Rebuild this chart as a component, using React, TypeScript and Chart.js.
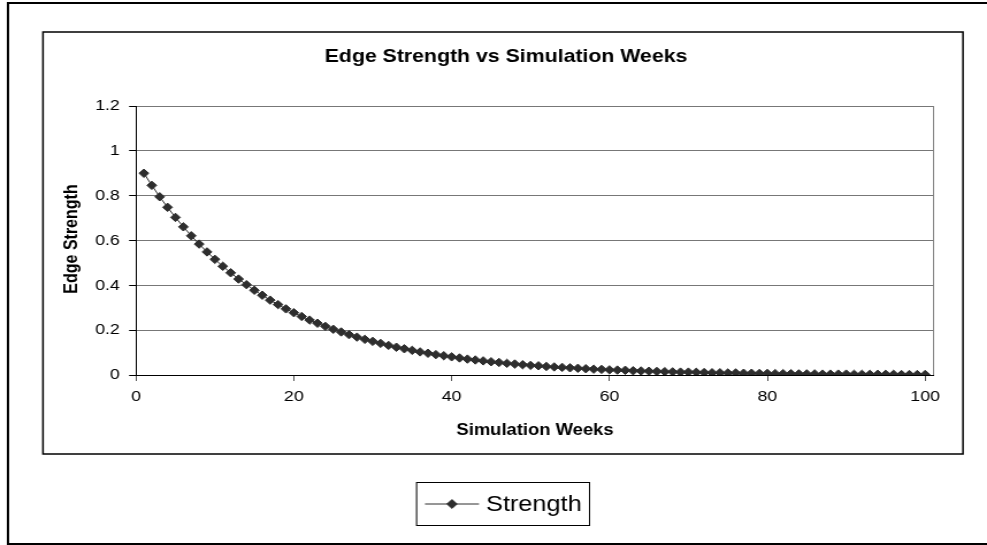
import React, { useEffect, useRef } from 'react';
import { Chart, registerables } from 'chart.js';

Chart.register(...registerables);

const chartTitle = 'Edge Strength vs Simulation Weeks';
const xAxisTitle = 'Simulation Weeks';
const yAxisTitle = 'Edge Strength';
const seriesName = 'Strength';

const weeks = [
  1, 2, 3, 4, 5, 6, 7, 8, 9, 10,
  11, 12, 13, 14, 15, 16, 17, 18, 19, 20,
  21, 22, 23, 24, 25, 26, 27, 28, 29, 30,
  31, 32, 33, 34, 35, 36, 37, 38, 39, 40,
  41, 42, 43, 44, 45, 46, 47, 48, 49, 50,
  51, 52, 53, 54, 55, 56, 57, 58, 59, 60,
  61, 62, 63, 64, 65, 66, 67, 68, 69, 70,
  71, 72, 73, 74, 75, 76, 77, 78, 79, 80,
  81, 82, 83, 84, 85, 86, 87, 88, 89, 90,
  91, 92, 93, 94, 95, 96, 97, 98, 99, 100,
];

const strength = [
  0.900, 0.846, 0.795, 0.748, 0.703, 0.661, 0.621, 0.584, 0.549, 0.516,
  0.485, 0.456, 0.428, 0.403, 0.378, 0.356, 0.334, 0.314, 0.295, 0.278,
  0.261, 0.245, 0.231, 0.217, 0.204, 0.192, 0.180, 0.169, 0.159, 0.150,
  0.141, 0.132, 0.124, 0.117, 0.110, 0.103, 0.097, 0.091, 0.086, 0.081,
  0.076, 0.071, 0.067, 0.063, 0.059, 0.056, 0.052, 0.049, 0.046, 0.043,
  0.041, 0.038, 0.036, 0.034, 0.032, 0.030, 0.028, 0.026, 0.025, 0.023,
  0.022, 0.021, 0.019, 0.018, 0.017, 0.016, 0.015, 0.014, 0.013, 0.013,
  0.012, 0.011, 0.010, 0.010, 0.009, 0.009, 0.008, 0.008, 0.007, 0.007,
  0.006, 0.006, 0.006, 0.005, 0.005, 0.005, 0.004, 0.004, 0.004, 0.004,
  0.003, 0.003, 0.003, 0.003, 0.003, 0.003, 0.002, 0.002, 0.002, 0.002,
];

const xTickValues = [0, 20, 40, 60, 80, 100];
const xTickLabels = ['0', '20', '40', '60', '80', '100'];
const yTickValues = [0, 0.2, 0.4, 0.6, 0.8, 1, 1.2];
const yTickLabels = ['0', '0.2', '0.4', '0.6', '0.8', '1', '1.2'];

// canvas is drawn narrower and stretched horizontally, like the reference
const CW = 858;
const CH = 545;
const S = 987 / CW;
const X = (v: number) => v / S;

const FONT = '"Liberation Sans", Arial, sans-serif';
const MARK = '#2e2e2e';

const framePlugin = {
  id: 'excelFrame',
  beforeDraw(chart: any) {
    const ctx = chart.ctx;
    ctx.save();
    ctx.fillStyle = '#fff';
    ctx.fillRect(0, 0, chart.width, chart.height);
    ctx.restore();
  },
  afterDraw(chart: any) {
    const ctx = chart.ctx;
    const ca = chart.chartArea;
    ctx.save();
    // outer border
    ctx.strokeStyle = '#000';
    ctx.lineWidth = 2;
    ctx.strokeRect(X(8), 3, CW + 20, 541);
    // chart box
    ctx.lineWidth = 1.5;
    ctx.strokeRect(X(43), 32, X(963) - X(43), 454 - 32);
    // plot right edge
    ctx.strokeStyle = '#808080';
    ctx.lineWidth = 1;
    ctx.beginPath();
    ctx.moveTo(Math.round(ca.right) + 0.5, ca.top);
    ctx.lineTo(Math.round(ca.right) + 0.5, ca.bottom);
    ctx.stroke();

    ctx.fillStyle = '#000';
    // title
    ctx.font = `bold 18.5px ${FONT}`;
    ctx.textAlign = 'center';
    ctx.textBaseline = 'alphabetic';
    ctx.fillText(chartTitle, X(506), 62);
    // x title
    ctx.font = `bold 16px ${FONT}`;
    ctx.fillText(xAxisTitle, X(535), 435);
    // y title
    ctx.save();
    ctx.translate(X(77), 239);
    ctx.rotate(-Math.PI / 2);
    ctx.fillText(yAxisTitle, 0, 0);
    ctx.restore();

    // legend
    ctx.strokeStyle = '#000';
    ctx.lineWidth = 1;
    ctx.strokeRect(X(416) + 0.5, 482.5, X(589) - X(416), 525 - 482);
    const ly = 504;
    ctx.strokeStyle = MARK;
    ctx.lineWidth = 1;
    ctx.beginPath();
    ctx.moveTo(X(425), ly);
    ctx.lineTo(X(479), ly);
    ctx.stroke();
    const cx = X(452);
    const r = 4.4;
    ctx.fillStyle = MARK;
    ctx.beginPath();
    ctx.moveTo(cx - r, ly);
    ctx.lineTo(cx, ly - r);
    ctx.lineTo(cx + r, ly);
    ctx.lineTo(cx, ly + r);
    ctx.closePath();
    ctx.fill();
    ctx.stroke();
    ctx.fillStyle = '#000';
    ctx.font = `22px ${FONT}`;
    ctx.textAlign = 'left';
    ctx.textBaseline = 'middle';
    ctx.fillText(seriesName, X(486), 505);
    ctx.restore();
  },
};

export default function App() {
  const ref = useRef<HTMLCanvasElement | null>(null);

  useEffect(() => {
    if (!ref.current) return;
    const tickFont = { family: FONT, size: 15.5 };
    const chart = new Chart(ref.current, {
      type: 'line',
      data: {
        datasets: [
          {
            label: seriesName,
            data: weeks.map((w, i) => ({ x: w, y: strength[i] })),
            borderColor: MARK,
            borderWidth: 1,
            pointStyle: 'rectRot',
            pointRadius: 4.2,
            pointBackgroundColor: MARK,
            pointBorderColor: MARK,
            pointBorderWidth: 1,
            tension: 0,
          },
        ],
      },
      options: {
        responsive: false,
        devicePixelRatio: 1,
        animation: false,
        layout: {
          padding: { left: 0, top: 106, right: CW - X(933), bottom: CH - 375 - 40 },
        },
        plugins: {
          legend: { display: false },
          title: { display: false },
          tooltip: { enabled: false },
        },
        scales: {
          x: {
            type: 'linear',
            min: 0,
            max: 101,
            afterBuildTicks: (s: any) => {
              s.ticks = xTickValues.map((v) => ({ value: v }));
            },
            afterFit: (s: any) => {
              s.height = 40;
            },
            grid: {
              drawOnChartArea: false,
              drawTicks: true,
              tickLength: 6,
              tickColor: '#555',
            },
            border: { display: true, color: '#000', width: 1 },
            ticks: {
              font: tickFont,
              color: '#000',
              padding: 6,
              maxRotation: 0,
              autoSkip: false,
              callback: (_v: any, i: number) => xTickLabels[i],
            },
          },
          y: {
            type: 'linear',
            min: 0,
            max: 1.2,
            afterBuildTicks: (s: any) => {
              s.ticks = yTickValues.map((v) => ({ value: v }));
            },
            afterFit: (s: any) => {
              s.width = X(136);
            },
            grid: {
              color: (c: any) => (c.tick && c.tick.value === 0 ? '#000' : '#777'),
              tickColor: '#000',
              tickLength: 6,
              drawTicks: true,
            },
            border: { display: true, color: '#000', width: 1 },
            ticks: {
              font: tickFont,
              color: '#000',
              padding: 8,
              autoSkip: false,
              callback: (_v: any, i: number) => yTickLabels[i],
            },
          },
        },
      },
      plugins: [framePlugin],
    } as any);
    return () => chart.destroy();
  }, []);

  return (
    <div style={{ position: 'fixed', left: 0, top: 0, width: 987, height: 545, background: '#fff' }}>
      <canvas
        ref={ref}
        width={CW}
        height={CH}
        style={{ width: '987px', height: '545px', display: 'block' }}
      />
    </div>
  );
}
